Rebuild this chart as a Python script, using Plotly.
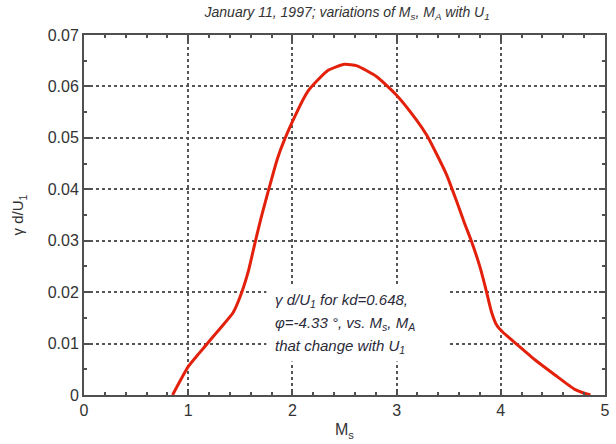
import plotly.graph_objects as go

# Curve data
ms = [0.85, 1.0, 1.10, 1.20, 1.30, 1.43, 1.50, 1.58, 1.64, 1.70, 1.78, 1.86,
      1.99, 2.15, 2.34, 2.50, 2.62, 2.81, 3.00, 3.19, 3.29, 3.38, 3.48, 3.57, 3.65,
      3.72, 3.80, 3.86, 3.91, 3.96, 4.02, 4.14, 4.33, 4.52, 4.71, 4.81, 4.86]
gamma = [0.0, 0.0055, 0.0080, 0.0104, 0.0128, 0.0160, 0.0192, 0.0243, 0.0295, 0.0345,
         0.0405, 0.0462, 0.0527, 0.0591, 0.0631, 0.0643, 0.0640, 0.0619, 0.0583,
         0.0535, 0.0505, 0.0470, 0.0428, 0.0380, 0.0335, 0.0298, 0.0249, 0.0203, 0.0162,
         0.0136, 0.0122, 0.0101, 0.0068, 0.0039, 0.0011, 0.0003, 0.0]

x_ticks = [0, 1, 2, 3, 4, 5]
y_ticks = [0, 0.01, 0.02, 0.03, 0.04, 0.05, 0.06, 0.07]
y_ticklabels = ["0", "0.01", "0.02", "0.03", "0.04", "0.05", "0.06", "0.07"]

title_text = "<i>January 11, 1997; variations of M<sub>s</sub>, M<sub>A</sub> with U<sub>1</sub></i>"
note_lines = [
    "<i>\u03b3 d/U<sub>1</sub> for kd=0.648,</i>",
    "<i>\u03c6=-4.33 \u00b0, vs. M<sub>s</sub>, M<sub>A</sub></i>",
    "<i>that change with U<sub>1</sub></i>",
]
note_y = [0.0183, 0.0139, 0.0095]

AX = "#505050"
TXT = "#333333"
FONT = "Liberation Sans, Arial"

fig = go.Figure()
fig.add_trace(go.Scatter(x=ms, y=gamma, mode="lines",
                         line=dict(color="#e3200b", width=3, shape="spline", smoothing=0.5),
                         hoverinfo="skip", showlegend=False))

fig.add_shape(type="rect", xref="x", yref="y", x0=1.75, x1=3.51, y0=0.0065, y1=0.0214,
              fillcolor="white", line=dict(width=0), layer="between")

for txt, yy in zip(note_lines, note_y):
    fig.add_annotation(x=1.81, y=yy, xref="x", yref="y", text=txt, showarrow=False,
                       xanchor="left", yanchor="middle",
                       font=dict(family=FONT, size=15, color="#2a2a3a"))

fig.update_layout(
    width=616, height=444,
    margin=dict(l=84, r=6, t=35, b=49),
    paper_bgcolor="white", plot_bgcolor="white",
    title=dict(text=title_text, x=0.5635, xanchor="center", y=0.972, yanchor="middle",
               font=dict(family=FONT, size=14, color=TXT)),
    font=dict(family=FONT, size=15, color=TXT),
)

fig.update_xaxes(range=[0, 5], tickvals=x_ticks, ticktext=[str(v) for v in x_ticks],
                 showline=True, linecolor=AX, linewidth=2, mirror="allticks",
                 ticks="inside", ticklen=6, tickcolor=AX, tickwidth=1.5,
                 minor=dict(dtick=0.2, ticks="inside", ticklen=3, tickcolor=AX, showgrid=False),
                 showgrid=True, gridcolor="#555555", gridwidth=1.5, griddash="dot",
                 zeroline=False,
                 title=dict(text="M<sub>s</sub>", font=dict(size=16, color=TXT), standoff=6),
                 tickfont=dict(size=16, color=TXT))

fig.update_yaxes(range=[0, 0.07], tickvals=y_ticks, ticktext=y_ticklabels,
                 showline=True, linecolor=AX, linewidth=2, mirror="allticks",
                 ticks="inside", ticklen=6, tickcolor=AX, tickwidth=1.5,
                 minor=dict(dtick=0.005, ticks="inside", ticklen=3, tickcolor=AX, showgrid=False),
                 showgrid=True, gridcolor="#555555", gridwidth=1.5, griddash="dot",
                 zeroline=False,
                 title=dict(text="\u03b3 d/U<sub>1</sub>", font=dict(size=15, color=TXT), standoff=20),
                 tickfont=dict(size=16, color=TXT))

fig.write_html("out.html")
